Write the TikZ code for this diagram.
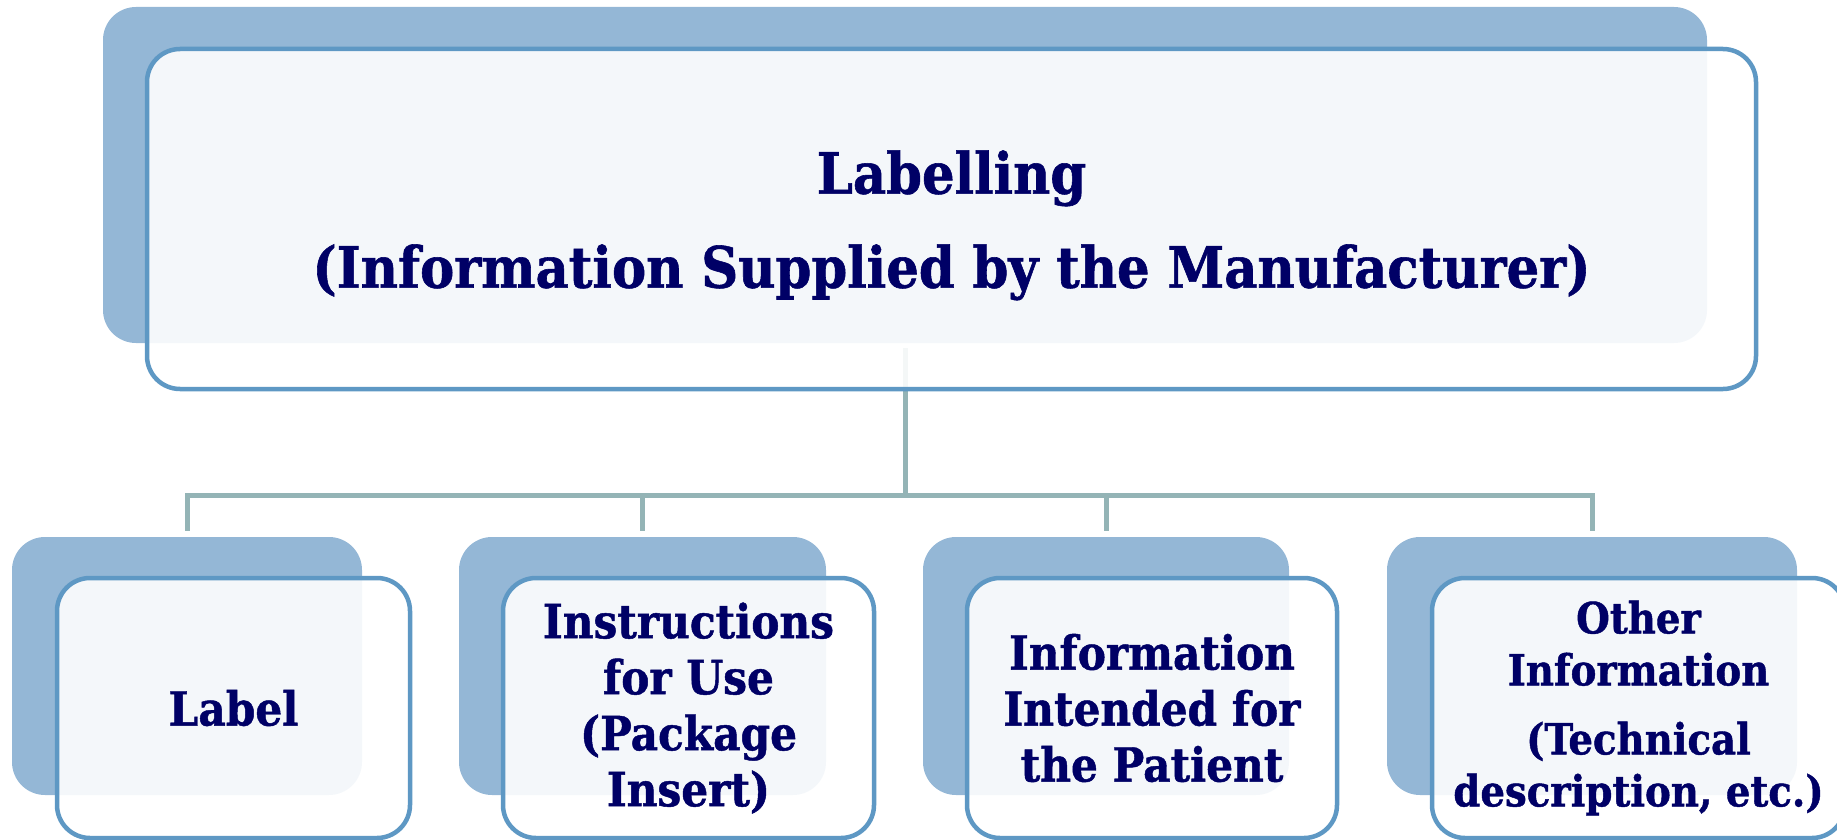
\documentclass[tikz,border=0pt]{standalone}
\usepackage{fontspec}
\setmainfont{DejaVu Serif Condensed}[BoldFeatures={FakeBold=1}]
\definecolor{backblue}{HTML}{94B7D6}
\definecolor{edgeblue}{HTML}{5E98C4}
\definecolor{linkgrey}{HTML}{94B4B6}
\definecolor{textnavy}{HTML}{000066}
\begin{document}
\begin{tikzpicture}[x=1pt, y=-1pt,
    backbox/.style={fill=backblue, rounded corners=33pt, inner sep=0pt},
    frontbox/.style={draw=edgeblue, line width=4.5pt, fill=white, fill opacity=0.9, text opacity=1,
        rounded corners=33pt, text=textnavy, align=center, inner sep=0pt},
    childfront/.style={frontbox, minimum height=260pt, font=\fontsize{47}{56}\selectfont\bfseries},
    link/.style={draw=linkgrey, line width=5pt}]
    \useasboundingbox (0,0) rectangle (1837,840);
    % back boxes
    \node[backbox, minimum width=1604pt, minimum height=336pt] (topback) at (905,175) {};
    \foreach \n/\x/\w in {label/187/350, ifu/642.5/367, patient/1106/366, other/1592/410} {
        \node[backbox, minimum width=\w pt, minimum height=258pt] (\n back) at (\x,666) {};
    }
    % connectors
    \coordinate (hub) at (905,495);
    \draw[link, shorten <=5pt] (topback.south) -- (hub);
    \foreach \n in {label, ifu, patient, other} {
        \draw[link, shorten >=6pt] (hub) -| (\n back.north);
    }
    % front boxes
    \node[frontbox, minimum width=1609pt, minimum height=340pt, font=\fontsize{57}{94}\selectfont\bfseries]
        (top) at (951.5,219) {\rule{0pt}{56pt}Labelling\\(Information Supplied by the Manufacturer)};
    \node[childfront, minimum width=353pt] (label) at (233.5,708) {Label};
    \node[childfront, minimum width=371pt] (ifu) at (688.5,708) {Instructions\\for Use\\(Package\\Insert)};
    \node[childfront, minimum width=370pt] (patient) at (1152,708) {Information\\Intended for\\the Patient};
    \node[childfront, minimum width=413pt, font=\fontsize{43}{52}\selectfont\bfseries]
        (other) at (1638.5,708) {Other\\Information\\[17pt](Technical\\description, etc.)};
\end{tikzpicture}
\end{document}
